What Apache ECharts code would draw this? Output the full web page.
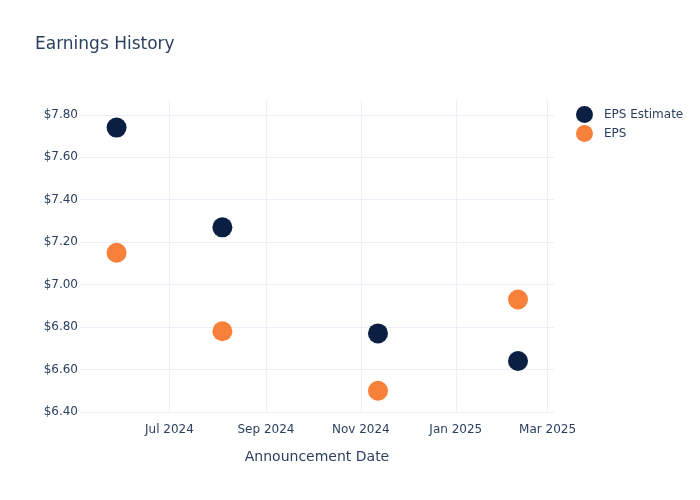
<!DOCTYPE html>
<html>
<head>
<meta charset="utf-8">
<script src="https://cdn.jsdelivr.net/npm/echarts@6/dist/echarts.min.js"></script>
<style>html,body{margin:0;padding:0;background:#fff;}#c{width:700px;height:500px;}</style>
</head>
<body>
<div id="c"></div>
<script>
const dates = ['2024-05-28', '2024-08-04', '2024-11-12', '2025-02-10'];
const epsEstimate = [7.74, 7.27, 6.77, 6.64];
const epsActual = [7.15, 6.78, 6.50, 6.93];
const yTicks = [6.4, 6.6, 6.8, 7.0, 7.2, 7.4, 7.6, 7.8];
const xTicks = ['2024-07-01', '2024-09-01', '2024-11-01', '2025-01-01', '2025-03-01'];
const monthNames = ['Jan','Feb','Mar','Apr','May','Jun','Jul','Aug','Sep','Oct','Nov','Dec'];

const font = 'DejaVu Sans';
const textColor = '#2a3f5f';
const gridColor = '#ebf0f8';
const ts = d => new Date(d + 'T00:00:00').getTime();
const xTickValues = xTicks.map(ts);

const chart = echarts.init(document.getElementById('c'));
chart.setOption({
  animation: false,
  backgroundColor: '#ffffff',
  textStyle: { fontFamily: font },
  title: {
    text: 'Earnings History',
    left: 30, top: 31,
    textStyle: { fontFamily: font, fontSize: 17, fontWeight: 'normal', color: textColor }
  },
  legend: {
    orient: 'vertical',
    left: 571, top: 101,
    itemWidth: 17, itemHeight: 17, itemGap: 2,
    icon: 'circle',
    textStyle: { fontFamily: font, fontSize: 12, color: textColor, padding: [0, 0, 0, 6] },
    data: ['EPS Estimate', 'EPS']
  },
  grid: { left: 80, right: 146, top: 100, bottom: 87, containLabel: false },
  xAxis: {
    type: 'value',
    min: new Date('2024-05-04T12:00:00').getTime(),
    max: new Date('2025-03-05T03:00:00').getTime(),
    name: 'Announcement Date',
    nameLocation: 'middle',
    nameGap: 37,
    nameTextStyle: { fontFamily: font, fontSize: 14, color: textColor },
    axisLine: { show: false },
    axisTick: { show: false, customValues: xTickValues },
    axisLabel: {
      customValues: xTickValues,
      margin: 11,
      fontFamily: font, fontSize: 12, color: textColor,
      formatter: function (v) {
        const d = new Date(v);
        return monthNames[d.getMonth()] + ' ' + d.getFullYear();
      }
    },
    splitLine: { show: true, lineStyle: { color: gridColor, width: 1 } }
  },
  yAxis: {
    type: 'value',
    min: 6.395, max: 7.87,
    axisLine: { show: false },
    axisTick: { show: false, customValues: yTicks },
    axisLabel: {
      customValues: yTicks,
      margin: 2,
      fontFamily: font, fontSize: 12, color: textColor,
      formatter: function (v) { return '$' + v.toFixed(2); }
    },
    splitLine: { show: true, lineStyle: { color: gridColor, width: 1 } }
  },
  series: [
    {
      name: 'EPS Estimate',
      type: 'scatter',
      symbolSize: 20,
      itemStyle: { color: '#0b1f42', opacity: 1 },
      data: dates.map((d, i) => [ts(d), epsEstimate[i]])
    },
    {
      name: 'EPS',
      type: 'scatter',
      symbolSize: 20,
      itemStyle: { color: '#f7813a', opacity: 1 },
      data: dates.map((d, i) => [ts(d), epsActual[i]])
    }
  ]
});
</script>
</body>
</html>
